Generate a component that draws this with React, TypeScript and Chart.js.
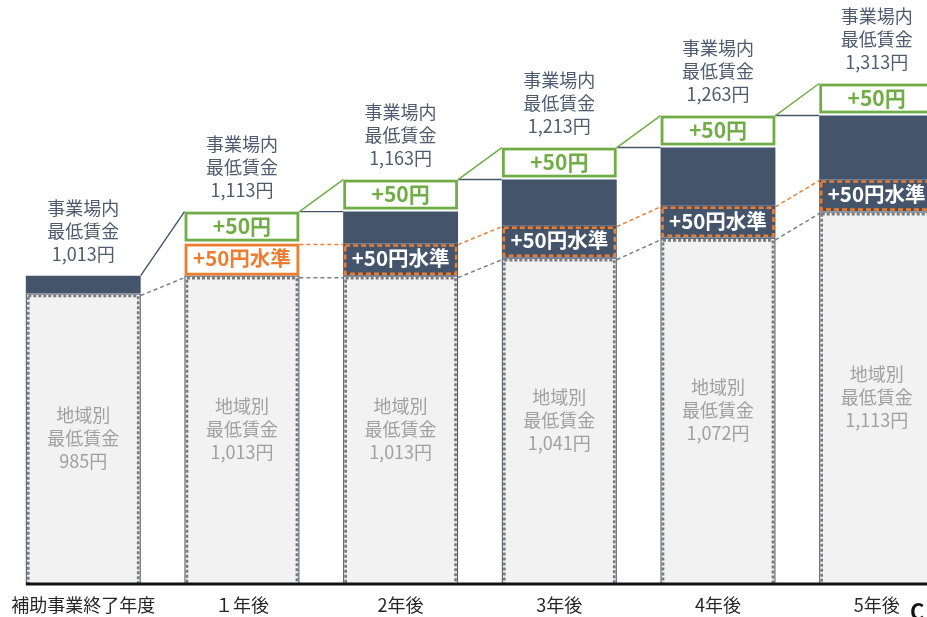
import React, { useEffect, useRef } from "react";
import { Chart, registerables } from "chart.js";

Chart.register(...registerables);

const categories = ["補助事業終了年度", "１年後", "2年後", "3年後", "4年後", "5年後"];
const workplaceWage = [1013, 1113, 1163, 1213, 1263, 1313];
const regionalWage = [985, 1013, 1013, 1041, 1072, 1113];
const levelRaise: (number | null)[] = [null, 50, 50, 50, 50, 50]; // +50円水準
const topRaise: (number | null)[] = [null, 50, 50, 50, 50, 50]; // +50円
const gapSeg = workplaceWage.map(
  (w, i) => w - regionalWage[i] - (levelRaise[i] ?? 0) - (topRaise[i] ?? 0)
);

const NAVY = "#44546a";
const GREEN = "#70ad47";
const ORANGE = "#ed7d31";
const GRAY = "#808080";
const FONT = "'Noto Sans CJK JP', 'Noto Sans', sans-serif";

const fmt = (v: number) => v.toLocaleString("en-US") + "円";

const overlayPlugin = {
  id: "overlay",
  afterDatasetsDraw(chart: any) {
    const ctx = chart.ctx as CanvasRenderingContext2D;
    const ca = chart.chartArea;
    const ys = chart.scales.y;
    const rect = (di: number, i: number) => {
      const v = chart.data.datasets[di].data[i];
      if (v == null || v === 0) return null;
      const el = chart.getDatasetMeta(di).data[i];
      if (!el) return null;
      const p = el.getProps(["x", "y", "base", "width"], true);
      return {
        l: p.x - p.width / 2,
        r: p.x + p.width / 2,
        t: Math.min(p.y, p.base),
        b: Math.min(Math.max(p.y, p.base), ca.bottom),
        cx: p.x,
      };
    };
    const barEdges = (i: number) => {
      const el = chart.getDatasetMeta(0).data[i];
      const p = el.getProps(["x", "width"], true);
      return { l: p.x - p.width / 2, r: p.x + p.width / 2, cx: p.x };
    };
    const n = categories.length;
    ctx.save();

    const line = (x1: number, y1: number, x2: number, y2: number, color: string, w: number, dash: number[] = []) => {
      ctx.beginPath();
      ctx.setLineDash(dash);
      ctx.strokeStyle = color;
      ctx.lineWidth = w;
      ctx.moveTo(x1, y1);
      ctx.lineTo(x2, y2);
      ctx.stroke();
      ctx.setLineDash([]);
    };

    // connectors
    for (let i = 0; i < n - 1; i++) {
      const a = barEdges(i);
      const b = barEdges(i + 1);
      line(a.r, ys.getPixelForValue(regionalWage[i]) + 2, b.l, ys.getPixelForValue(regionalWage[i + 1]) + 2, GRAY, 1.5, [4, 3]);
      if (levelRaise[i] != null && levelRaise[i + 1] != null) {
        line(a.r, ys.getPixelForValue(regionalWage[i] + (levelRaise[i] as number)) + 1, b.l, ys.getPixelForValue(regionalWage[i + 1] + (levelRaise[i + 1] as number)) + 1, ORANGE, 1.5, [4, 3]);
      }
      const topA = ys.getPixelForValue(workplaceWage[i]);
      const topB = ys.getPixelForValue(workplaceWage[i + 1]);
      if (i === 0) {
        line(a.r, topA, b.l, topB, NAVY, 1.4);
      } else {
        line(a.r, topA, b.l, topA, NAVY, 1.4);
        line(a.r, topA, b.l, topB, GREEN, 1.5);
      }
    }

    // box borders
    for (let i = 0; i < n; i++) {
      const g = rect(0, i);
      if (g) {
        ctx.save();
        ctx.beginPath();
        ctx.rect(g.l - 2, g.t - 2, g.r - g.l + 4, ca.bottom - g.t + 2);
        ctx.clip();
        ctx.strokeStyle = NAVY;
        ctx.lineWidth = 1;
        ctx.strokeRect(g.l + 0.5, g.t + 0.5, g.r - g.l - 1, g.b - g.t + 5);
        ctx.setLineDash([3, 2]);
        ctx.strokeStyle = "#7a7a7a";
        ctx.lineWidth = 2.6;
        ctx.strokeRect(g.l + 2.5, g.t + 2.5, g.r - g.l - 5, g.b - g.t + 5);
        ctx.setLineDash([]);
        ctx.restore();
      }
      const o = rect(1, i);
      if (o) {
        if (i === 1) {
          ctx.strokeStyle = ORANGE;
          ctx.lineWidth = 2.8;
          ctx.strokeRect(o.l + 1.5, o.t + 1.5, o.r - o.l - 3, o.b - o.t - 3);
        } else {
          ctx.setLineDash([5, 3]);
          ctx.strokeStyle = ORANGE;
          ctx.lineWidth = 2.5;
          ctx.strokeRect(o.l + 2, o.t + 2, o.r - o.l - 4, o.b - o.t - 4);
          ctx.setLineDash([]);
        }
      }
      const gr = rect(3, i);
      if (gr) {
        ctx.strokeStyle = GREEN;
        ctx.lineWidth = 2.8;
        ctx.strokeRect(gr.l + 1.5, gr.t + 1.5, gr.r - gr.l - 3, gr.b - gr.t - 5);
      }
    }

    // texts
    ctx.textAlign = "center";
    ctx.textBaseline = "middle";
    for (let i = 0; i < n; i++) {
      const e = barEdges(i);
      const top = ys.getPixelForValue(workplaceWage[i]);
      ctx.fillStyle = "#4f5b6e";
      ctx.font = `18px ${FONT}`;
      const lines = ["事業場内", "最低賃金", fmt(workplaceWage[i])];
      lines.forEach((t, k) => ctx.fillText(t, e.cx, top - 21 - (2 - k) * 23));
      const g = rect(0, i);
      if (g) {
        const cy = (g.t + g.b) / 2;
        ctx.fillStyle = "#a0a0a0";
        const rl = ["地域別", "最低賃金", fmt(regionalWage[i])];
        rl.forEach((t, k) => ctx.fillText(t, e.cx, cy + (k - 1) * 23));
      }
      const o = rect(1, i);
      if (o) {
        ctx.font = `bold 20.5px ${FONT}`;
        ctx.fillStyle = i === 1 ? ORANGE : "#ffffff";
        ctx.fillText("+50円水準", e.cx, (o.t + o.b) / 2 - 1);
      }
      const gr = rect(3, i);
      if (gr) {
        ctx.font = `bold 21px ${FONT}`;
        ctx.fillStyle = GREEN;
        ctx.fillText("+50円", e.cx, (gr.t + gr.b) / 2 - 2);
      }
    }

    // baseline axis line
    const first = barEdges(0);
    line(first.l, ca.bottom + 1, chart.width, ca.bottom + 1, "#111111", 3);

    // clipped letter at bottom right
    ctx.font = `bold 22px ${FONT}`;
    ctx.fillStyle = "#111111";
    ctx.textAlign = "left";
    ctx.textBaseline = "top";
    ctx.fillText("C", 910, 601);

    ctx.restore();
  },
};

export default function App() {
  const canvasRef = useRef<HTMLCanvasElement | null>(null);

  useEffect(() => {
    if (!canvasRef.current) return;
    Chart.defaults.font.family = FONT;
    const chart = new Chart(canvasRef.current, {
      type: "bar",
      data: {
        labels: categories,
        datasets: [
          {
            label: "地域別最低賃金",
            data: regionalWage,
            backgroundColor: "#f2f2f2",
            borderWidth: 0,
          },
          {
            label: "+50円水準",
            data: levelRaise,
            backgroundColor: categories.map((_, i) => (i === 1 ? "#ffffff" : NAVY)),
            borderWidth: 0,
          },
          {
            label: "差額",
            data: gapSeg,
            backgroundColor: NAVY,
            borderWidth: 0,
          },
          {
            label: "+50円",
            data: topRaise,
            backgroundColor: "#ffffff",
            borderWidth: 0,
          },
        ],
      },
      options: {
        animation: false,
        responsive: true,
        maintainAspectRatio: false,
        layout: { padding: { left: 3, right: 0, top: 15, bottom: 0 } },
        datasets: { bar: { barPercentage: 0.724, categoryPercentage: 1 } },
        plugins: {
          legend: { display: false },
          tooltip: { enabled: false },
        },
        scales: {
          x: {
            stacked: true,
            grid: { display: false, drawTicks: false },
            border: { display: false },
            ticks: {
              color: "#262626",
              font: { size: 18, family: FONT },
              padding: 11,
              maxRotation: 0,
              autoSkip: false,
            },
            afterFit: (s: any) => {
              s.height = 34;
            },
          },
          y: {
            stacked: true,
            display: false,
            min: 533,
            max: 1420,
          },
        },
      },
      plugins: [overlayPlugin],
    });
    return () => chart.destroy();
  }, []);

  return (
    <div
      style={{
        position: "fixed",
        left: 0,
        top: 0,
        width: 927,
        height: 617,
        overflow: "hidden",
        background: "#ffffff",
      }}
    >
      <div style={{ position: "relative", width: 956, height: 617 }}>
        <canvas ref={canvasRef} />
      </div>
    </div>
  );
}
